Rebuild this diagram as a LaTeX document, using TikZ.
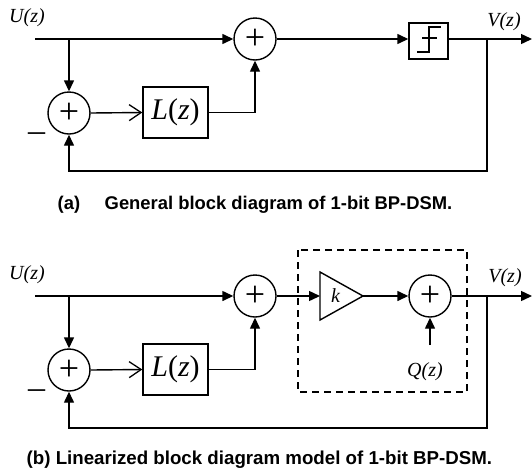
\documentclass[tikz,border=0pt]{standalone}
\usepackage{fontspec}
\setmainfont{Liberation Serif}
\newfontfamily\capfont{Liberation Sans}
\usetikzlibrary{arrows.meta}
\begin{document}
\begin{tikzpicture}[x=1pt,y=-1pt,line width=1.4pt,
  sum/.style={draw,circle,minimum size=42pt,inner sep=0pt,font=\fontsize{36}{36}\selectfont},
  blk/.style={draw,inner sep=0pt},
  arr/.style={-{Triangle[length=11pt,width=10pt]}},
  oarr/.style={-{Straight Barb[length=12pt,width=16pt,line width=1.3pt]}},
  lbl/.style={font=\itshape\fontsize{20}{20}\selectfont,inner sep=0pt},
  mns/.style={font=\fontsize{34}{34}\selectfont,inner sep=0pt},
  captxt/.style={font=\capfont\bfseries\fontsize{18.4}{20}\selectfont,inner sep=0pt},
  dbox/.style={dash pattern=on 7pt off 5pt,line width=1.6pt},
  Lz/.style={font=\fontsize{30}{30}\selectfont}
]
\useasboundingbox (0,0) rectangle (532,472);

% ---------- (a) ----------
\node[sum] (s1) at (255,39) {+};
\node[sum] (s2) at (69,113) {+};
\node[blk,minimum width=65pt,minimum height=51pt,Lz] (L1) at (175.5,112.5) {\textit{L}(\textit{z})};
\node[blk,minimum width=39pt,minimum height=36pt] (q) at (428.5,41) {};
\draw[line width=1.3pt] ([shift={(-11.5,11)}]q.center) -- ([shift={(0.5,11)}]q.center)
  -- ([shift={(0.5,-14)}]q.center) -- ([shift={(12.5,-14)}]q.center);
\draw[line width=1.3pt] ([shift={(-6.5,-3)}]q.center) -- ([shift={(8.5,-3)}]q.center);

\coordinate (in1) at (35,39);
\coordinate (b1) at (69,39);
\coordinate (out1) at (532,39);
\coordinate (fb1) at (487,39);
\coordinate (fb1b) at (487,171);

\draw[arr] (in1) -- (s1.west);
\draw[arr] (b1) -- (s2.north);
\draw[oarr] (s2.east) -- (L1.west);
\draw[arr] (L1.east) -| (s1.south);
\draw[arr] (s1.east) -- (s1.east -| q.west);
\draw[arr] (q.east |- s1.east) -- (out1);
\draw[arr] (fb1) -- (fb1b) -| (s2.south);

\node[lbl] (u1) at (27,18) {U(z)};
\node[lbl] (v1) at (504,22) {V(z)};
\node[mns] (m1) at (36.5,137) {\textendash};
\node[captxt,anchor=base west] (ca) at (57,209) {(a)};
\node[captxt,anchor=base west] (cat) at (104,209) {General block diagram of 1-bit BP-DSM.};

% ---------- (b) ----------
\node[sum] (t1) at (255,296) {+};
\node[sum] (t2) at (69,370) {+};
\node[blk,minimum width=65pt,minimum height=51pt,Lz] (L2) at (175.5,369.5) {\textit{L}(\textit{z})};
\node[sum] (t3) at (430,296) {+};

\coordinate (ain) at (320,296);
\coordinate (atl) at (320,272);
\coordinate (abl) at (320,320);
\coordinate (aout) at (363,296);
\draw (atl) -- (aout) -- (abl) -- cycle;
\node[lbl] (k) at (335.5,296) {k};

\coordinate (in2) at (35,296);
\coordinate (b2) at (69,296);
\coordinate (out2) at (532,296);
\coordinate (fb2) at (487,296);
\coordinate (fb2b) at (487,428);
\coordinate (qin) at (430,345);

\draw[arr] (in2) -- (t1.west);
\draw[arr] (b2) -- (t2.north);
\draw[oarr] (t2.east) -- (L2.west);
\draw[arr] (L2.east) -| (t1.south);
\draw[arr] (t1.east) -- (ain);
\draw[arr] (aout) -- (t3.west);
\draw[arr] (qin) -- (t3.south);
\draw[arr] (t3.east) -- (out2);
\draw[arr] (fb2) -- (fb2b) -| (t2.south);

\draw[dbox] (298,250) rectangle (467,392);

\node[lbl] (u2) at (27,275) {U(z)};
\node[lbl] (v2) at (505,278) {V(z)};
\node[lbl] (Q) at (425,372) {Q(z)};
\node[mns] (m2) at (36.5,394) {\textendash};
\node[captxt,anchor=base west,font=\capfont\bfseries\fontsize{18.7}{20}\selectfont] (cb) at (26,464) {(b) Linearized block diagram model of 1-bit BP-DSM.};
\end{tikzpicture}
\end{document}
